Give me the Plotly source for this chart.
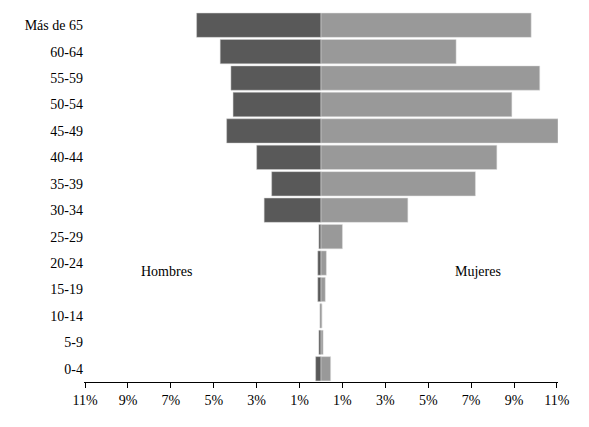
import plotly.graph_objects as go

grupos = ["0-4", "5-9", "10-14", "15-19", "20-24", "25-29", "30-34", "35-39",
          "40-44", "45-49", "50-54", "55-59", "60-64", "Más de 65"]
hombres = [0.25, 0.1, 0.05, 0.15, 0.15, 0.1, 2.65, 2.3, 3.0, 4.4, 4.1, 4.2, 4.7, 5.8]
mujeres = [0.45, 0.1, 0.05, 0.2, 0.25, 1.0, 4.05, 7.2, 8.2, 11.05, 8.9, 10.2, 6.3, 9.8]
ticks = [-11, -9, -7, -5, -3, -1, 1, 3, 5, 7, 9, 11]
tick_text = [f"{abs(t)}%" for t in ticks]

fig = go.Figure()
fig.add_trace(go.Bar(y=grupos, x=[-h for h in hombres], orientation="h",
                     marker=dict(color="#595959", line=dict(color="#d0d0d0", width=0.5)),
                     name="Hombres"))
fig.add_trace(go.Bar(y=grupos, x=mujeres, orientation="h",
                     marker=dict(color="#999999", line=dict(color="#e0e0e0", width=0.5)),
                     name="Mujeres"))

fig.add_annotation(x=-7.2, y="20-24", yshift=-8, text="Hombres", showarrow=False,
                   font=dict(size=14, color="black"))
fig.add_annotation(x=7.3, y="20-24", yshift=-8, text="Mujeres", showarrow=False,
                   font=dict(size=14, color="black"))

fig.update_layout(
    width=589, height=427, barmode="relative", bargap=0.08, showlegend=False,
    plot_bgcolor="white", paper_bgcolor="white",
    margin=dict(l=76, r=39, t=4, b=53),
    font=dict(family="Liberation Serif, Times New Roman, serif", size=14, color="black"),
)
fig.update_xaxes(range=[-11.05, 11.05], tickvals=ticks, ticktext=tick_text,
                 showgrid=False, zeroline=False, showline=True, linecolor="black",
                 ticks="outside", ticklen=5, tickcolor="black")
fig.update_yaxes(showgrid=False, ticks="", ticklen=0)

fig.write_html("out.html")
